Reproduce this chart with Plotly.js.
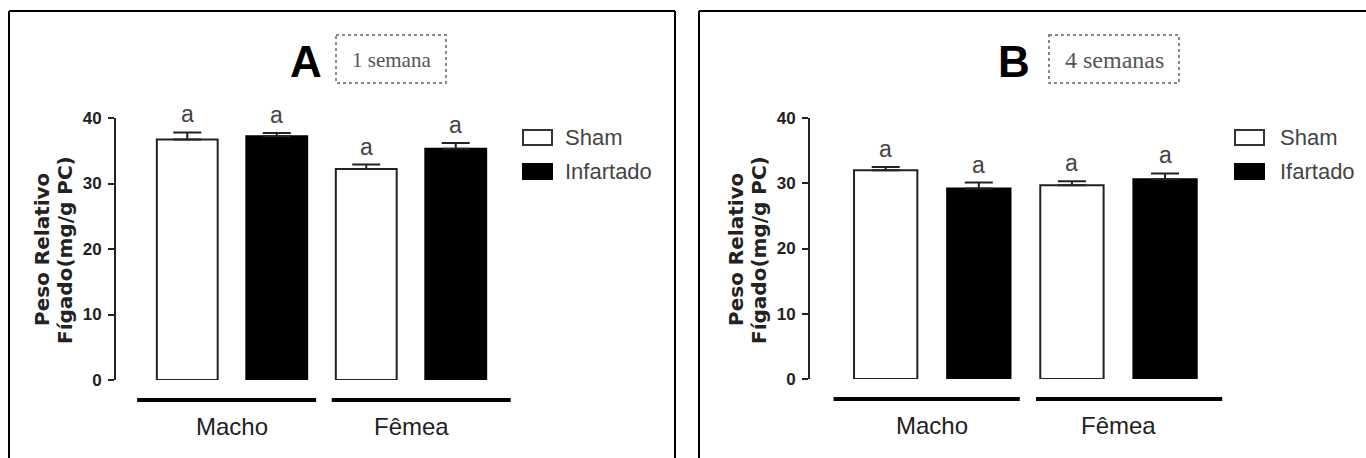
<!DOCTYPE html>
<html>
<head>
<meta charset="utf-8">
<script src="https://cdn.plot.ly/plotly-3.0.1.min.js"></script>
<style>html,body{margin:0;padding:0;background:#fff;}</style>
</head>
<body>
<div id="chart" style="width:1366px;height:458px;"></div>
<script>
// ---- data ----
const categories = ["Macho", "Fêmea"];
const seriesNamesA = ["Sham", "Infartado"];
const seriesNamesB = ["Sham", "Ifartado"];
const shamA = [36.7, 32.2];
const shamAErr = [1.1, 0.7];
const infA = [37.2, 35.3];
const infAErr = [0.5, 0.9];
const shamB = [32.0, 29.7];
const shamBErr = [0.5, 0.6];
const infB = [29.2, 30.6];
const infBErr = [0.9, 0.9];
const yTicks = [0, 10, 20, 30, 40];
const sigA = [["a", "a"], ["a", "a"]]; // [sham, infartado] per category
const sigB = [["a", "a"], ["a", "a"]];
const panelLetters = ["A", "B"];
const periodLabels = ["1 semana", "4 semanas"];
const yTitleLines = ["Peso Relativo", "Fígado(mg/g PC)"];

// ---- helpers ----
const W = 1366, H = 458;
const px = x => x / W;
const py = y => (H - y) / H;
const SANS = '"Liberation Sans", Arial, sans-serif';
const zeros = a => a.map(() => 0);

function barTrace(name, vals, errs, fill, xa, ya) {
  return {
    type: 'bar', name: name, x: categories, y: vals,
    xaxis: xa, yaxis: ya,
    marker: {color: fill, line: {color: fill === '#000000' ? '#000000' : '#222222', width: 2}},
    error_y: {type: 'data', symmetric: false, array: errs, arrayminus: zeros(errs),
              color: '#222222', thickness: 2, width: 14},
    hoverinfo: 'skip'
  };
}

const data = [
  barTrace(seriesNamesA[0], shamA, shamAErr, '#ffffff', 'x', 'y'),
  barTrace(seriesNamesA[1], infA, infAErr, '#000000', 'x', 'y'),
  barTrace(seriesNamesB[0], shamB, shamBErr, '#ffffff', 'x2', 'y2'),
  barTrace(seriesNamesB[1], infB, infBErr, '#000000', 'x2', 'y2')
];

const tickFont = {family: SANS, size: 17, color: '#222', weight: 'bold'};
function yAxis(bottomPx, anchor) {
  return {
    domain: [py(bottomPx), py(118)], range: [0, 40], anchor: anchor,
    showline: true, linecolor: '#222', linewidth: 2,
    ticks: 'outside', ticklen: 6, tickwidth: 2, tickcolor: '#222',
    tickvals: yTicks, ticktext: yTicks.map(String), ticklabelstandoff: 3,
    showgrid: false, zeroline: false, tickfont: tickFont, fixedrange: true
  };
}
function xAxis(leftPx, rightPx, centerPx, unitPx, anchor) {
  return {
    domain: [px(leftPx), px(rightPx)], anchor: anchor, type: 'category',
    range: [(leftPx - centerPx) / unitPx, (rightPx - centerPx) / unitPx],
    showline: false, ticks: '', showticklabels: false, showgrid: false, zeroline: false,
    fixedrange: true
  };
}

const shapes = [];
const annotations = [];

// frames
const blk = {color: '#000', width: 2};
shapes.push({type: 'line', xref: 'paper', yref: 'paper', x0: px(9), x1: px(9), y0: py(11), y1: py(470), line: blk});
shapes.push({type: 'line', xref: 'paper', yref: 'paper', x0: px(9), x1: px(675), y0: py(11), y1: py(11), line: blk});
shapes.push({type: 'line', xref: 'paper', yref: 'paper', x0: px(675), x1: px(675), y0: py(11), y1: py(470), line: blk});
shapes.push({type: 'line', xref: 'paper', yref: 'paper', x0: px(699), x1: px(699), y0: py(11), y1: py(470), line: blk});
shapes.push({type: 'line', xref: 'paper', yref: 'paper', x0: px(699), x1: px(1370), y0: py(11), y1: py(11), line: blk});

function panel(cfg) {
  // group lines under categories
  categories.forEach((c, i) => {
    const x0 = -0.53 + i * 1.087;
    shapes.push({type: 'line', xref: cfg.xa, yref: 'paper', x0: x0, x1: x0 + 1.0,
      y0: py(cfg.lineY), y1: py(cfg.lineY), line: {color: '#000', width: 4}});
    annotations.push({xref: cfg.xa, yref: 'paper', x: i, y: py(cfg.labelY), text: c,
      showarrow: false, xanchor: 'center', yanchor: 'middle',
      font: {family: SANS, size: 24, color: '#222'}});
  });
  // significance letters
  const tops = [cfg.sham.map((v, i) => v + cfg.shamErr[i]), cfg.inf.map((v, i) => v + cfg.infErr[i])];
  [0, 1].forEach(s => {
    categories.forEach((c, i) => {
      annotations.push({xref: cfg.xa, yref: cfg.ya, x: i + (s === 0 ? -0.25 : 0.25), y: tops[s][i],
        text: cfg.sig[i][s], showarrow: false, xanchor: 'center', yanchor: 'bottom', yshift: 3,
        font: {family: SANS, size: 23, color: '#444'}});
    });
  });
  // y axis title (one annotation per line)
  yTitleLines.forEach((t, k) => {
    annotations.push({xref: 'paper', yref: 'paper', x: px(cfg.titleX + k * 23), y: py(250),
      text: t, textangle: -90, showarrow: false,
      xanchor: 'center', yanchor: 'middle',
      font: {family: '"DejaVu Sans", sans-serif', size: 20, color: '#222', weight: 'bold'}});
  });
  // panel letter
  annotations.push({xref: 'paper', yref: 'paper', x: px(cfg.letterX), y: py(61), text: cfg.letter,
    showarrow: false, xanchor: 'center', yanchor: 'middle',
    font: {family: SANS, size: 44, color: '#000', weight: 'bold'}});
  // period box
  shapes.push({type: 'rect', xref: 'paper', yref: 'paper', x0: px(cfg.box[0]), x1: px(cfg.box[1]),
    y0: py(35), y1: py(83), line: {color: '#888', width: 2, dash: 'dot'}});
  annotations.push({xref: 'paper', yref: 'paper', x: px((cfg.box[0] + cfg.box[1]) / 2), y: py(60),
    text: cfg.period, showarrow: false, xanchor: 'center', yanchor: 'middle',
    font: {family: '"Liberation Serif", "Times New Roman", serif', size: cfg.periodSize, color: '#555'}});
  // legend
  const fills = ['#ffffff', '#000000'];
  const ys = [137.5, 171.5];
  cfg.names.forEach((n, k) => {
    shapes.push({type: 'rect', xref: 'paper', yref: 'paper',
      x0: px(cfg.legX), x1: px(cfg.legX + 29), y0: py(ys[k] - 7.5), y1: py(ys[k] + 7.5),
      fillcolor: fills[k], line: {color: k === 0 ? '#333' : '#000', width: 2}});
    annotations.push({xref: 'paper', yref: 'paper', x: px(cfg.legTextX), y: py(ys[k]), text: n,
      showarrow: false, xanchor: 'left', yanchor: 'middle',
      font: {family: SANS, size: 22, color: '#444'}});
  });
}

panel({xa: 'x', ya: 'y', sham: shamA, shamErr: shamAErr, inf: infA, infErr: infAErr, sig: sigA,
  lineY: 400, labelY: 426, titleX: 42, letterX: 306, letter: panelLetters[0],
  box: [336, 446], period: periodLabels[0], periodSize: 21,
  names: seriesNamesA, legX: 523, legTextX: 563});
panel({xa: 'x2', ya: 'y2', sham: shamB, shamErr: shamBErr, inf: infB, infErr: infBErr, sig: sigB,
  lineY: 399, labelY: 425, titleX: 736, letterX: 1014, letter: panelLetters[1],
  box: [1049, 1179], period: periodLabels[1], periodSize: 24,
  names: seriesNamesB, legX: 1235, legTextX: 1278});

const layout = {
  width: W, height: H, margin: {l: 0, r: 0, t: 0, b: 0},
  paper_bgcolor: '#fff', plot_bgcolor: 'rgba(0,0,0,0)',
  showlegend: false, barmode: 'group', bargap: 0, bargroupgap: 0.32,
  xaxis: xAxis(116, 520, 232, 179, 'y'),
  yaxis: yAxis(380, 'x'),
  xaxis2: xAxis(810, 1230, 932.25, 186.25, 'y2'),
  yaxis2: yAxis(379, 'x2'),
  shapes: shapes, annotations: annotations
};

Plotly.newPlot('chart', data, layout, {displayModeBar: false, staticPlot: true});
</script>
</body>
</html>
